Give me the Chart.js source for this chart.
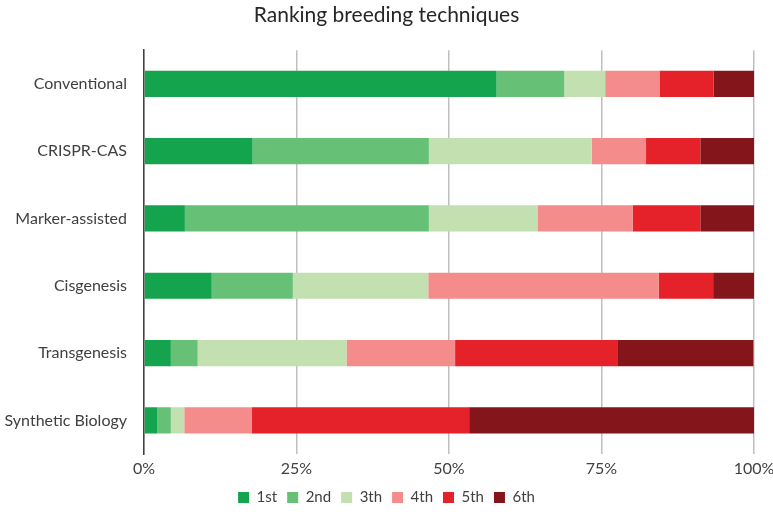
<!DOCTYPE html>
<html>
<head>
<meta charset="utf-8">
<script src="https://cdn.jsdelivr.net/npm/chart.js@4/dist/chart.umd.min.js"></script>
<style>
  html, body { margin: 0; padding: 0; background: #ffffff; }
  #wrap { width: 773px; height: 515px; }
</style>
</head>
<body>
<div id="wrap"><canvas id="rankChart" width="773" height="515"></canvas></div>
<script>
// categories (top to bottom)
const techniques = ['Conventional', 'CRISPR-CAS', 'Marker-assisted', 'Cisgenesis', 'Transgenesis', 'Synthetic Biology'];

// share of respondents per rank, in percent
const rank1 = [57.8, 17.8, 6.7, 11.1, 4.4, 2.2];
const rank2 = [11.1, 28.9, 40.0, 13.3, 4.4, 2.2];
const rank3 = [6.7, 26.7, 17.8, 22.2, 24.4, 2.2];
const rank4 = [8.9, 8.9, 15.6, 37.8, 17.8, 11.1];
const rank5 = [8.9, 8.9, 11.1, 8.9, 26.7, 35.6];
const rank6 = [6.7, 8.9, 8.9, 6.7, 22.2, 46.7];

const rankLabels = ['1st', '2nd', '3th', '4th', '5th', '6th'];
const rankColors = ['#14a44d', '#66c177', '#c2e0b0', '#f48c8c', '#e52129', '#84151a'];

const xTicks = [0, 25, 50, 75, 100];

const fontFamily = 'Lato, "Open Sans", sans-serif';

function buildDatasets() {
    const series = [rank1, rank2, rank3, rank4, rank5, rank6];
    return series.map((values, i) => ({
        label: rankLabels[i],
        data: values,
        backgroundColor: rankColors[i],
        borderWidth: 0,
        barPercentage: 0.39,
        categoryPercentage: 1.0
    }));
}

function initChart() {
    let ctx = document.getElementById('rankChart').getContext('2d');
    new Chart(ctx, {
        type: 'bar',
        data: {
            labels: techniques,
            datasets: buildDatasets()
        },
        options: {
            indexAxis: 'y',
            responsive: false,
            animation: false,
            layout: {
                padding: { top: 0, right: 0, bottom: 0, left: 0 }
            },
            plugins: {
                title: {
                    display: true,
                    text: 'Ranking breeding techniques',
                    color: '#262626',
                    font: { family: fontFamily, size: 21, weight: 'normal' },
                    padding: { top: 3, bottom: 22 }
                },
                legend: {
                    position: 'bottom',
                    labels: {
                        boxWidth: 11,
                        boxHeight: 11,
                        padding: 10,
                        color: '#404040',
                        font: { family: fontFamily, size: 15 }
                    }
                },
                tooltip: { enabled: false }
            },
            scales: {
                x: {
                    stacked: true,
                    min: 0,
                    max: 100,
                    afterBuildTicks: function (scale) {
                        scale.ticks = xTicks.map(v => ({ value: v }));
                    },
                    afterFit: function (scale) {
                        scale.height = 26;
                        scale.paddingRight = 19;
                    },
                    grid: {
                        color: '#bfbfbf',
                        lineWidth: 1.5,
                        drawTicks: false
                    },
                    border: { display: false },
                    ticks: {
                        padding: 5,
                        color: '#404040',
                        font: { family: fontFamily, size: 16 },
                        callback: function (value) { return value + '%'; }
                    }
                },
                y: {
                    stacked: true,
                    afterFit: function (scale) {
                        scale.width = 144;
                    },
                    grid: { display: false, drawTicks: false },
                    border: { display: true, color: '#404040', width: 1.5 },
                    ticks: {
                        padding: 17,
                        color: '#404040',
                        font: { family: fontFamily, size: 16 }
                    }
                }
            }
        }
    });
}

window.onload = initChart;
</script>
</body>
</html>
